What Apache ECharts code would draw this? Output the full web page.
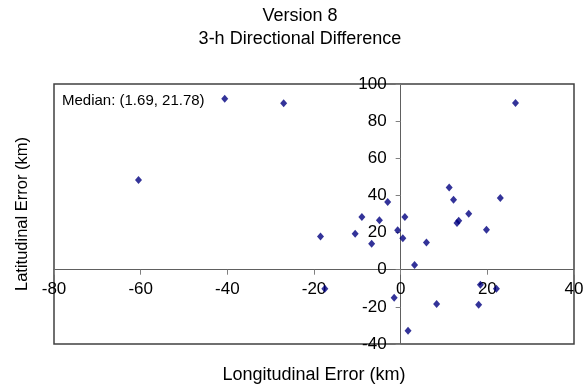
<!DOCTYPE html>
<html>
<head>
<meta charset="utf-8">
<script src="https://cdn.jsdelivr.net/npm/echarts@6/dist/echarts.min.js"></script>
<style>html,body{margin:0;padding:0;background:#fff}#c{width:586px;height:388px}</style>
</head>
<body>
<div id="c"></div>
<script>
const titleLines = ['Version 8', '3-h Directional Difference'];
const xName = 'Longitudinal Error (km)';
const yName = 'Latitudinal Error (km)';
const medianLabel = 'Median: (1.69, 21.78)';
const lonErr = [-60.5, -40.6, -27.0, 26.5, -18.5, -17.5, -10.5, -8.95, -6.7, -4.9, -3.0, -1.5, -0.7, 0.5, 0.97, 1.7, 3.2, 5.95, 8.3, 11.2, 12.2, 13.0, 13.4, 15.7, 18.4, 18.0, 19.8, 22.1, 23.0];
const latErr = [48.3, 92.0, 89.6, 89.8, 17.9, -10.3, 19.4, 28.4, 14.0, 26.7, 36.4, -15.1, 21.3, 17.0, 28.4, -32.9, 2.5, 14.7, -18.5, 44.3, 37.7, 25.1, 26.4, 30.1, -8.1, -18.9, 21.5, -10.3, 38.6];
const xRange = [-80, 40, 20];
const yRange = [-40, 100, 20];

const G = {left: 54, right: 12, top: 84, bottom: 44, W: 586, H: 388};
const plotW = G.W - G.left - G.right, plotH = G.H - G.top - G.bottom;
// offsets that move each axis onto the other axis' zero
const xAxisOffset = -(plotH * (0 - yRange[0]) / (yRange[1] - yRange[0]));
const yAxisOffset = -(plotW * (0 - xRange[0]) / (xRange[1] - xRange[0]));

const chart = echarts.init(document.getElementById('c'), null, {renderer: 'canvas'});
const font = 'Arial, "Liberation Sans", sans-serif';
chart.setOption({
  animation: false,
  backgroundColor: '#fff',
  title: {
    text: titleLines.join('\n'),
    left: 300, top: 5, padding: 0, textAlign: 'center',
    textStyle: {fontFamily: font, fontSize: 18, fontWeight: 'normal', color: '#000', lineHeight: 23}
  },
  grid: {left: G.left, right: G.right, top: G.top, bottom: G.bottom, show: true, containLabel: false, outerBoundsMode: 'none',
    borderColor: '#404040', borderWidth: 1.5, backgroundColor: 'transparent'},
  xAxis: {
    type: 'value', min: xRange[0], max: xRange[1], interval: xRange[2],
    position: 'bottom', offset: xAxisOffset,
    name: xName, nameLocation: 'middle', nameGap: 96,
    nameTextStyle: {fontFamily: font, fontSize: 18, color: '#000'},
    axisLine: {onZero: false, lineStyle: {color: '#606060', width: 1}},
    axisTick: {show: true, length: 5, lineStyle: {color: '#808080'}},
    axisLabel: {fontFamily: font, fontSize: 17, color: '#000', margin: 11, showMinLabel: true, showMaxLabel: true},
    splitLine: {show: false}
  },
  yAxis: {
    type: 'value', min: yRange[0], max: yRange[1], interval: yRange[2],
    position: 'left', offset: yAxisOffset,
    name: yName, nameLocation: 'middle', nameGap: 370,
    nameTextStyle: {fontFamily: font, fontSize: 16.5, color: '#000'},
    axisLine: {onZero: false, lineStyle: {color: '#606060', width: 1}},
    axisTick: {show: true, length: 5, lineStyle: {color: '#808080'}},
    axisLabel: {fontFamily: font, fontSize: 17, color: '#000', margin: 14, showMinLabel: true, showMaxLabel: true},
    splitLine: {show: false}
  },
  graphic: [{
    type: 'text', left: 62, top: 93,
    style: {text: medianLabel, fontFamily: font, fontSize: 15, fill: '#000'}
  }],
  series: [{
    type: 'scatter',
    symbol: 'diamond', symbolSize: [7, 8],
    itemStyle: {color: '#000080'},
    data: lonErr.map((x, i) => [x, latErr[i]])
  }]
});
</script>
</body>
</html>
